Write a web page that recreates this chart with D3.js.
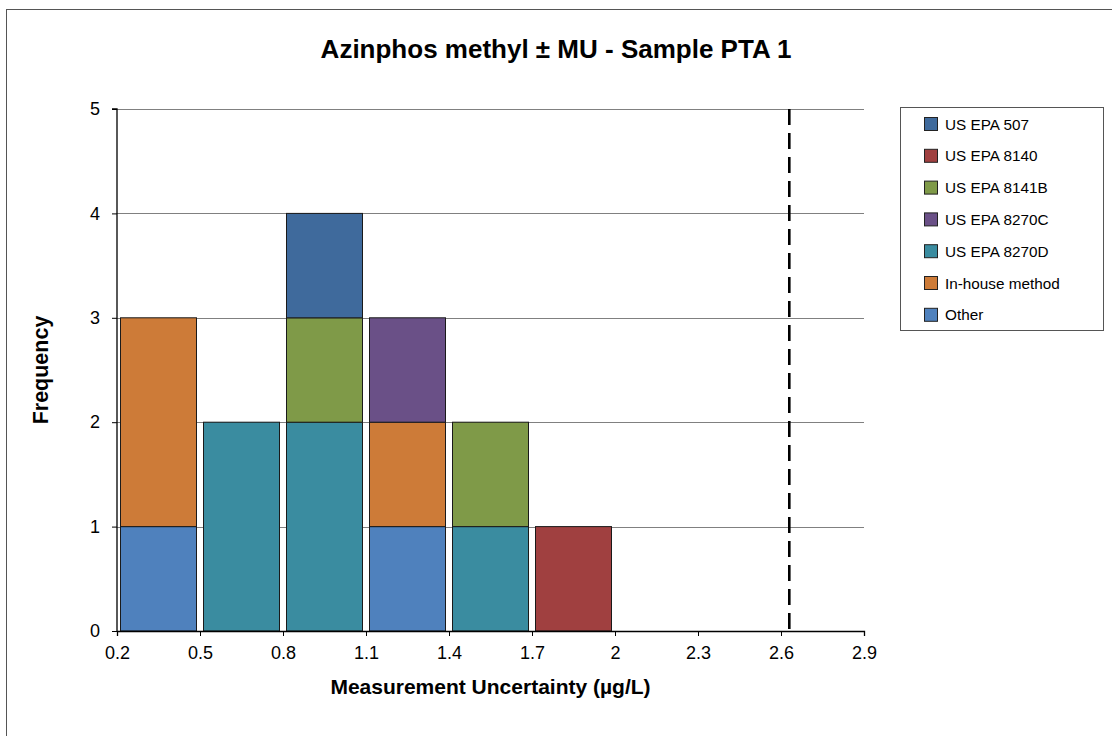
<!DOCTYPE html>
<html><head><meta charset="utf-8">
<script src="https://cdn.jsdelivr.net/npm/d3@7"></script>
<style>body{margin:0;background:#fff;} svg{display:block;font-family:"Liberation Sans",Arial,sans-serif;}</style>
</head><body>
<script>
const binStarts = [0.2, 0.5, 0.8, 1.1, 1.4, 1.7, 2.0, 2.3, 2.6];
const binWidth = 0.3;
const xTicks = [0.2, 0.5, 0.8, 1.1, 1.4, 1.7, 2.0, 2.3, 2.6, 2.9];
const yTicks = [0, 1, 2, 3, 4, 5];
const seriesNames = ["US EPA 507", "US EPA 8140", "US EPA 8141B", "US EPA 8270C", "US EPA 8270D", "In-house method", "Other"];
const seriesColors = ["#3F6A9C", "#A04040", "#7F9A48", "#6A5087", "#3A8CA0", "#CD7B38", "#4F81BD"];
const epa507   = [0, 0, 1, 0, 0, 0, 0, 0, 0];
const epa8140  = [0, 0, 0, 0, 0, 1, 0, 0, 0];
const epa8141B = [0, 0, 1, 0, 1, 0, 0, 0, 0];
const epa8270C = [0, 0, 0, 1, 0, 0, 0, 0, 0];
const epa8270D = [0, 2, 2, 0, 1, 0, 0, 0, 0];
const inHouse  = [2, 0, 0, 1, 0, 0, 0, 0, 0];
const other    = [1, 0, 0, 1, 0, 0, 0, 0, 0];
const seriesValues = [epa507, epa8140, epa8141B, epa8270C, epa8270D, inHouse, other];
const refLine = 2.63;
const title = "Azinphos methyl ± MU - Sample PTA 1";
const xLabel = "Measurement Uncertainty (µg/L)";
const yLabel = "Frequency";

const W = 1112, H = 736;
const svg = d3.select("body").append("svg").attr("width", W).attr("height", H);
svg.append("rect").attr("x", 6.5).attr("y", 9.5).attr("width", 1200).attr("height", 800)
  .attr("fill", "#fff").attr("stroke", "#555").attr("stroke-width", 1);

const x = d3.scaleLinear().domain([0.2, 2.9]).range([117, 864]);
const y = d3.scaleLinear().domain([0, 5]).range([631, 109]);

// gridlines
svg.append("g").selectAll("line").data(yTicks.filter(d => d > 0)).join("line")
  .attr("x1", x(0.2)).attr("x2", x(2.9))
  .attr("y1", d => Math.round(y(d)) + 0.5).attr("y2", d => Math.round(y(d)) + 0.5)
  .attr("stroke", "#808080").attr("stroke-width", 1);

// stacked bars: bottom-up order is reverse of legend
const rows = binStarts.map((b, i) => {
  const r = {bin: b};
  seriesNames.forEach((n, s) => r[n] = seriesValues[s][i]);
  return r;
});
const stackKeys = seriesNames.slice().reverse();
const stack = d3.stack().keys(stackKeys)(rows);
const inset = 3.5;
stack.forEach(layer => {
  const color = seriesColors[seriesNames.indexOf(layer.key)];
  svg.append("g").selectAll("rect").data(layer.filter(d => d[1] - d[0] > 0)).join("rect")
    .attr("x", d => x(d.data.bin) + inset)
    .attr("width", d => x(d.data.bin + binWidth) - x(d.data.bin) - 2 * inset)
    .attr("y", d => y(d[1]))
    .attr("height", d => y(d[0]) - y(d[1]))
    .attr("fill", color).attr("stroke", "#1a1a1a").attr("stroke-width", 1);
});

// axes
const yAxis = svg.append("g").attr("transform", `translate(${x(0.2)},0)`)
  .call(d3.axisLeft(y).tickValues(yTicks).tickSize(5).tickPadding(12).tickFormat(d3.format("d")));
const xAxis = svg.append("g").attr("transform", `translate(0,${y(0)})`)
  .call(d3.axisBottom(x).tickValues(xTicks).tickSize(5).tickPadding(10).tickFormat(d => d3.format("")(+d.toFixed(1))));
[yAxis, xAxis].forEach(a => {
  a.select(".domain").attr("stroke", "#000").attr("stroke-width", 1.3);
  a.selectAll(".tick line").attr("stroke", "#000");
  a.selectAll("text").attr("font-size", 18).attr("fill", "#000").attr("font-family", "Liberation Sans, Arial, sans-serif");
});
yAxis.select(".domain").attr("d", `M-5,${y(5)}H0V${y(0)}`);

// reference dashed line
svg.append("line").attr("x1", x(refLine)).attr("x2", x(refLine))
  .attr("y1", y(5)).attr("y2", y(0))
  .attr("stroke", "#000").attr("stroke-width", 2.6).attr("stroke-dasharray", "16,8");

// titles
svg.append("text").attr("x", 556).attr("y", 58).attr("text-anchor", "middle")
  .attr("font-size", 26).attr("font-weight", "bold").text(title);
svg.append("text").attr("x", (x(0.2) + x(2.9)) / 2).attr("y", 694).attr("text-anchor", "middle")
  .attr("font-size", 21).attr("font-weight", "bold").text(xLabel);
svg.append("text").attr("transform", `translate(48,${(y(0) + y(5)) / 2}) rotate(-90)`).attr("text-anchor", "middle")
  .attr("font-size", 21.5).attr("font-weight", "bold").text(yLabel);

// legend
const lg = svg.append("g");
lg.append("rect").attr("x", 900.5).attr("y", 107.5).attr("width", 203).attr("height", 223)
  .attr("fill", "#fff").attr("stroke", "#555");
const items = lg.selectAll("g.item").data(seriesNames).join("g")
  .attr("transform", (d, i) => `translate(924,${124 + i * 31.8})`);
items.append("rect").attr("x", 0.5).attr("y", -6.5).attr("width", 13).attr("height", 13)
  .attr("fill", (d, i) => seriesColors[i]).attr("stroke", "#222");
items.append("text").attr("x", 21).attr("y", 5.5).attr("font-size", 15.3).text(d => d);
</script>
</body></html>
